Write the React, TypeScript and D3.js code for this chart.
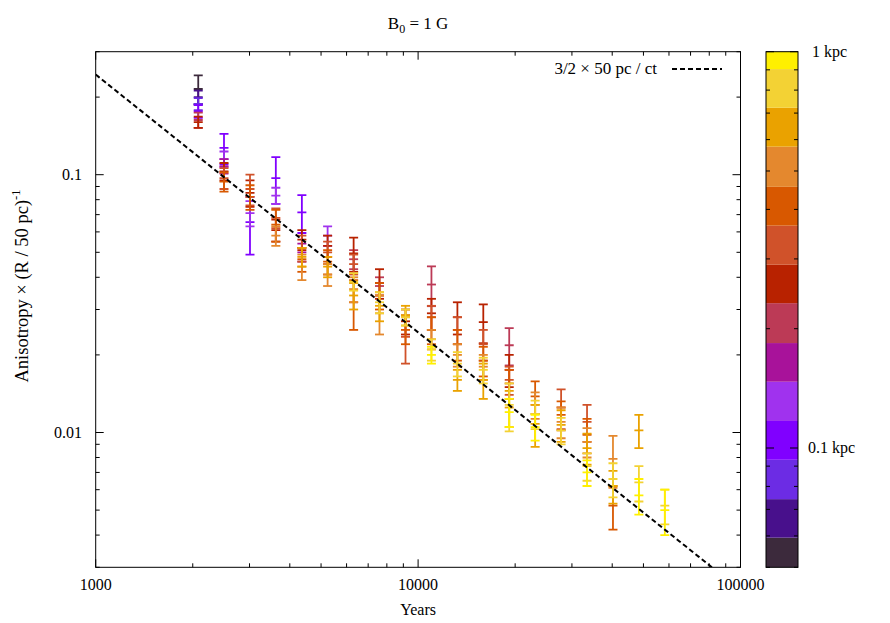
import * as d3 from 'd3';

// [time index, value, error]
type Pt = [number, number, number];

const times = [2080, 2500, 3010, 3620, 4360, 5240, 6310, 7590, 9140, 11000, 13240, 15930, 19170, 23070, 27770, 33420, 40220, 48400, 58250];

// source distance of each series, kpc
const radii = [0.054, 0.066, 0.083, 0.104, 0.13, 0.165, 0.206, 0.26, 0.325, 0.41, 0.51, 0.645, 0.81, 0.95];

const r054: Pt[] = [[0, 0.215, 0.028]];
const r066: Pt[] = [[0, 0.2, 0.012]];
const r083: Pt[] = [[0, 0.188, 0.01]];
const r104: Pt[] = [[0, 0.176, 0.01], [1, 0.127, 0.017], [2, 0.0655, 0.0165], [3, 0.097, 0.02], [4, 0.0714, 0.012]];
const r130: Pt[] = [[1, 0.115, 0.008], [2, 0.071, 0.008], [3, 0.083, 0.006], [5, 0.058, 0.005]];
const r165: Pt[] = [[1, 0.108, 0.007], [4, 0.05, 0.004]];
const r206: Pt[] = [[0, 0.163, 0.011], [6, 0.047, 0.004], [7, 0.037, 0.003], [9, 0.0375, 0.0066], [12, 0.0218, 0.0036]];
const r260: Pt[] = [[0, 0.16, 0.008], [1, 0.103, 0.008], [2, 0.085, 0.01], [3, 0.061, 0.006], [4, 0.056, 0.005], [5, 0.053, 0.005], [6, 0.0495, 0.0075], [7, 0.038, 0.005], [8, 0.027, 0.003], [9, 0.029, 0.004], [10, 0.028, 0.004], [11, 0.0268, 0.0046], [12, 0.0175, 0.0025]];
const r325: Pt[] = [[1, 0.097, 0.009], [2, 0.088, 0.012], [3, 0.068, 0.006], [4, 0.052, 0.006], [5, 0.05, 0.005], [6, 0.045, 0.004], [8, 0.0235, 0.005], [9, 0.028, 0.003], [10, 0.025, 0.003], [11, 0.022, 0.003], [12, 0.016, 0.002], [14, 0.0125, 0.0022], [15, 0.011, 0.0018]];
const r410: Pt[] = [[1, 0.094, 0.008], [2, 0.082, 0.009], [3, 0.064, 0.009], [4, 0.047, 0.005], [5, 0.046, 0.005], [6, 0.032, 0.007], [7, 0.034, 0.004], [8, 0.025, 0.003], [9, 0.025, 0.003], [10, 0.022, 0.003], [11, 0.019, 0.0025], [12, 0.0155, 0.002], [13, 0.0138, 0.002], [14, 0.0117, 0.0015], [15, 0.0098, 0.0015], [16, 0.0052, 0.001]];
const r510: Pt[] = [[3, 0.058, 0.005], [4, 0.044, 0.005], [5, 0.041, 0.004], [6, 0.036, 0.004], [7, 0.029, 0.005], [9, 0.023, 0.002], [10, 0.02, 0.002], [11, 0.018, 0.002], [13, 0.0128, 0.0015], [14, 0.011, 0.0015], [15, 0.0092, 0.0012], [16, 0.0079, 0.0018]];
const r645: Pt[] = [[4, 0.048, 0.004], [5, 0.044, 0.004], [6, 0.034, 0.004], [7, 0.031, 0.004], [8, 0.0285, 0.0025], [10, 0.016, 0.0015], [11, 0.016, 0.0025], [12, 0.0125, 0.002], [13, 0.0108, 0.002], [14, 0.0107, 0.0015], [15, 0.0087, 0.0012], [16, 0.0062, 0.0009], [17, 0.0102, 0.0015]];
const r810: Pt[] = [[6, 0.0385, 0.003], [7, 0.032, 0.003], [8, 0.028, 0.002], [9, 0.021, 0.002], [10, 0.0185, 0.002], [11, 0.0175, 0.002], [12, 0.0128, 0.0027], [13, 0.0118, 0.0015], [14, 0.0102, 0.0012], [15, 0.0074, 0.0009], [16, 0.0066, 0.001], [17, 0.0064, 0.001], [18, 0.0052, 0.0008]];
const r950: Pt[] = [[9, 0.02, 0.0015], [12, 0.012, 0.0015], [13, 0.0105, 0.0012], [15, 0.007, 0.0008], [17, 0.0057, 0.0009], [18, 0.005, 0.001]];

const seriesPts = [r054, r066, r083, r104, r130, r165, r206, r260, r325, r410, r510, r645, r810, r950];

// colour bands of the colour box (kpc edges, bottom to top)
const bandEdges = [0.0594, 0.0743, 0.0934, 0.117, 0.147, 0.184, 0.232, 0.29, 0.364, 0.456, 0.576, 0.722, 0.904];
const bandColors = ['#3c2a3c', '#48108c', '#6c2ce4', '#8000ff', '#a032ee', '#a8129a', '#bc3a56', '#b82200', '#d0522a', '#d85800', '#e4882e', '#eaa200', '#f3d234', '#fff000'];

const fitScale = 244.6; // 3/2 * 50 pc / c, in years

const W = 890, H = 623;
const m = { left: 95.7, right: 740.5, top: 51.7, bottom: 567.3 };
const cb = { left: 766, right: 798 };
const FONT = '"Liberation Serif", "Times New Roman", serif';

export default function App() {
  const x = d3.scaleLog().domain([1000, 100000]).range([m.left, m.right]);
  const y = d3.scaleLog().domain([0.003, 0.3]).range([m.bottom, m.top]);
  const c = d3.scaleLog().domain([0.05, 1]).range([m.bottom, m.top]);
  const color = d3.scaleThreshold<number, string>().domain(bandEdges).range(bandColors);

  const isMajor = (v: number) => Math.abs(Math.log10(v) - Math.round(Math.log10(v))) < 1e-6;
  const xTicks = x.ticks();
  const yTicks = y.ticks();
  const cTicks = c.ticks();

  const fitT = d3.range(0, 201).map((i) => 1000 * Math.pow(100, i / 200));
  const fitLine = d3.line<number>().x((t) => x(t)).y((t) => y(fitScale / t));

  const bandLows = [0.05, ...bandEdges];
  const bandHighs = [...bandEdges, 1];

  const cap = 4.5;

  return (
    <svg width={W} height={H} style={{ position: 'absolute', left: 0, top: 0, background: '#fff' }} fontFamily={FONT}>
      <defs>
        <clipPath id="plotclip">
          <rect x={m.left} y={m.top} width={m.right - m.left} height={m.bottom - m.top} />
        </clipPath>
      </defs>

      {/* title */}
      <text x={(m.left + m.right) / 2} y={29} textAnchor="middle" fontSize={17}>
        B<tspan fontSize={12} dy={4}>0</tspan><tspan dy={-4}> = 1 G</tspan>
      </text>

      {/* error bars */}
      <g clipPath="url(#plotclip)">
        {seriesPts.map((pts, si) =>
          pts.map(([ti, v, e], i) => {
            const px = x(times[ti]);
            const yTop = y(v + e);
            const yBot = y(v - e);
            const yc = y(v);
            const col = color(radii[si]);
            return (
              <g key={`${si}-${i}`} stroke={col} strokeWidth={1.8}>
                <line x1={px} x2={px} y1={yTop} y2={yBot} />
                <line x1={px - cap} x2={px + cap} y1={yTop} y2={yTop} />
                <line x1={px - cap} x2={px + cap} y1={yBot} y2={yBot} />
                <line x1={px - cap} x2={px + cap} y1={yc} y2={yc} />
              </g>
            );
          })
        )}
        <path d={fitLine(fitT) ?? ''} fill="none" stroke="#000" strokeWidth={2} strokeDasharray="5,3" />
      </g>

      {/* frame and ticks */}
      <rect x={m.left} y={m.top} width={m.right - m.left} height={m.bottom - m.top} fill="none" stroke="#000" strokeWidth={1} />
      {xTicks.map((t) => {
        const len = isMajor(t) ? 8 : 4;
        const px = x(t);
        return (
          <g key={`xt${t}`} stroke="#000">
            <line x1={px} x2={px} y1={m.bottom} y2={m.bottom - len} />
            <line x1={px} x2={px} y1={m.top} y2={m.top + len} />
          </g>
        );
      })}
      {yTicks.map((t) => {
        const len = isMajor(t) ? 8 : 4;
        const py = y(t);
        return (
          <g key={`yt${t}`} stroke="#000">
            <line x1={m.left} x2={m.left + len} y1={py} y2={py} />
            <line x1={m.right} x2={m.right - len} y1={py} y2={py} />
          </g>
        );
      })}
      {xTicks.filter(isMajor).map((t) => (
        <text key={`xl${t}`} x={x(t)} y={590} textAnchor="middle" fontSize={16}>{d3.format('d')(t)}</text>
      ))}
      {yTicks.filter(isMajor).map((t) => (
        <text key={`yl${t}`} x={82} y={y(t) + 5} textAnchor="end" fontSize={16}>{String(t)}</text>
      ))}

      {/* axis labels */}
      <text x={(m.left + m.right) / 2} y={615} textAnchor="middle" fontSize={16}>Years</text>
      <text transform={`translate(28,286) rotate(-90)`} textAnchor="middle" fontSize={18.5}>
        Anisotropy × (R / 50 pc)<tspan fontSize={12.5} dy={-8}>-1</tspan>
      </text>

      {/* legend */}
      <text x={657} y={74} textAnchor="end" fontSize={17}>3/2 × 50 pc / ct</text>
      <line x1={672} x2={722} y1={69} y2={69} stroke="#000" strokeWidth={2} strokeDasharray="5,3" />

      {/* colour box */}
      {bandColors.map((col, i) => (
        <rect key={`cb${i}`} x={cb.left} width={cb.right - cb.left} y={c(bandHighs[i])} height={c(bandLows[i]) - c(bandHighs[i])} fill={col} />
      ))}
      <rect x={cb.left} y={m.top} width={cb.right - cb.left} height={m.bottom - m.top} fill="none" stroke="#000" strokeWidth={1} />
      {cTicks.map((t) => {
        const len = isMajor(t) ? 8 : 4;
        const py = c(t);
        return (
          <g key={`ct${t}`} stroke="#000">
            <line x1={cb.left} x2={cb.left + len} y1={py} y2={py} />
            <line x1={cb.right} x2={cb.right - len} y1={py} y2={py} />
          </g>
        );
      })}
      <text x={812} y={c(1) + 5} fontSize={16}>1 kpc</text>
      <text x={808} y={c(0.1) + 5} fontSize={16}>0.1 kpc</text>
    </svg>
  );
}
